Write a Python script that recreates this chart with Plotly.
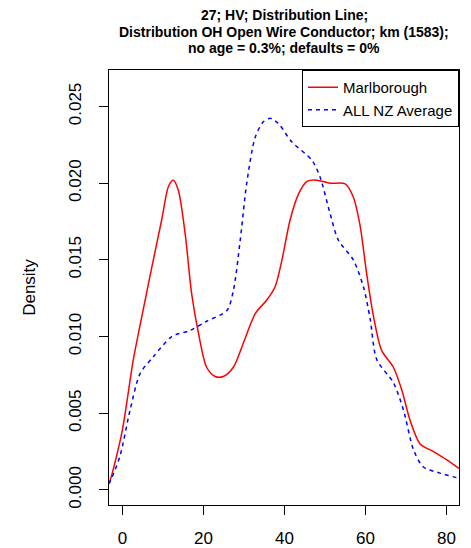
import plotly.graph_objects as go

# Kernel density estimates of asset age (years)
marl_x = [-3.3, -3.0, -0.15, 2.7, 4.8, 7.3, 9.7, 11.4, 12.6, 13.8, 15.5, 17.1, 18.8, 20.8,
          22.9, 24.9, 27.4, 29.9, 32.8, 35.7, 37.7, 39.4, 41.4, 43.5, 45.5, 48.0, 51.3,
          55.0, 57.0, 58.7, 60.3, 62.0, 64.0, 66.9, 69.0, 71.0, 73.5, 76.8, 80.1, 83.1]
marl_y = [0.0005, 0.00065, 0.0037, 0.0085, 0.0113, 0.01456, 0.0176, 0.0198, 0.0202, 0.01956,
          0.0167, 0.0128, 0.0102, 0.0080, 0.0074, 0.0074, 0.0080, 0.0096, 0.0115, 0.0124,
          0.01325, 0.0150, 0.0176, 0.0193, 0.0201, 0.0202, 0.0200, 0.01995, 0.0191, 0.0172,
          0.0141, 0.0113, 0.0091, 0.0080, 0.0065, 0.00456, 0.0030, 0.0025, 0.00196, 0.0014]

nz_x = [-3.3, -3.0, -0.6, 1.9, 4.4, 7.7, 12.2, 16.7, 20.8, 25.8, 27.4, 29.1, 30.7, 32.8,
        34.8, 36.5, 38.5, 41.8, 46.8, 48.8, 51.3, 53.3, 57.0, 59.5, 61.2, 62.8, 66.9,
        69.4, 71.9, 74.3, 78.4, 83.1]
nz_y = [0.0004, 0.00055, 0.0022, 0.0052, 0.0076, 0.0087, 0.0100, 0.0104, 0.0110, 0.0117,
        0.0130, 0.0163, 0.0200, 0.0230, 0.0240, 0.02423, 0.0239, 0.0227, 0.0215, 0.0204,
        0.0180, 0.0163, 0.0150, 0.01325, 0.0111, 0.0085, 0.0070, 0.0052, 0.0026, 0.0015,
        0.0011, 0.00076]

x_ticks = [0, 20, 40, 60, 80]
y_ticks = [0.000, 0.005, 0.010, 0.015, 0.020, 0.025]

title_lines = ["27; HV; Distribution Line;",
               "Distribution OH Open Wire Conductor; km (1583);",
               "no age = 0.3%; defaults = 0%"]

FONT = "Liberation Sans, Arial, Helvetica, sans-serif"
W, H = 471, 548
M_L, M_R, M_T, M_B = 109, 12, 70, 43
PLOT_H = H - M_T - M_B

fig = go.Figure()
fig.add_trace(go.Scatter(x=marl_x, y=marl_y, mode="lines", name="Marlborough",
                         line=dict(color="#FF0000", width=1.5, shape="spline", smoothing=0.8)))
fig.add_trace(go.Scatter(x=nz_x, y=nz_y, mode="lines", name="ALL NZ Average",
                         line=dict(color="#0000FF", width=1.5, dash="4px,4px",
                                   shape="spline", smoothing=0.8)))

# three-line bold title, one annotation per line
for i, line in enumerate(title_lines):
    y_px = 15 + 16.5 * i
    fig.add_annotation(text="<b>%s</b>" % line, xref="paper", yref="paper",
                       x=0.5, y=(H - M_B - y_px) / PLOT_H, xanchor="center",
                       yanchor="middle", showarrow=False,
                       font=dict(size=14, family=FONT, color="black"))

fig.update_layout(
    width=W, height=H,
    margin=dict(l=M_L, r=M_R, t=M_T, b=M_B),
    paper_bgcolor="white", plot_bgcolor="white",
    font=dict(family=FONT, color="black", size=16),
    legend=dict(x=1, xanchor="right", y=1, yanchor="top", bordercolor="black",
                borderwidth=1, bgcolor="white", font=dict(size=15, family=FONT),
                itemwidth=30, tracegroupgap=0),
    showlegend=True,
)
fig.update_xaxes(range=[-3.3, 83.1], tickvals=x_ticks, ticktext=[str(v) for v in x_ticks],
                 showline=True, mirror=True, linecolor="black", linewidth=1,
                 ticks="outside", ticklen=9, tickcolor="black", showgrid=False,
                 zeroline=False, ticklabelstandoff=9, tickfont=dict(size=17),
                 automargin=False)
fig.update_yaxes(range=[-0.00098, 0.02738], tickvals=y_ticks,
                 ticktext=["%.3f" % v for v in y_ticks], tickangle=-90,
                 showline=True, mirror=True, linecolor="black", linewidth=1,
                 ticks="outside", ticklen=9, tickcolor="black", showgrid=False,
                 zeroline=False, ticklabelstandoff=11, tickfont=dict(size=17),
                 title=dict(text="Density", standoff=26, font=dict(size=17)),
                 automargin=False)

fig.write_html("out.html")
